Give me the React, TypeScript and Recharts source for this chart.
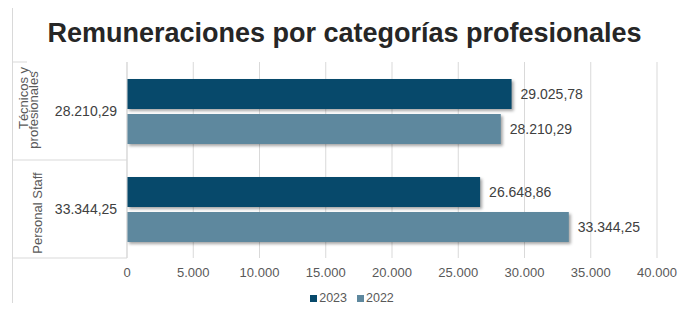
import React from "react";
import { BarChart, Bar, XAxis, YAxis, CartesianGrid, Legend, LabelList } from "recharts";

const categories = ["Técnicos y profesionales", "Personal Staff"];
const categoryLines = [["Técnicos y", "profesionales"], ["Personal Staff"]];
const values2023 = [29025.78, 26648.86];
const values2022 = [28210.29, 33344.25];
const xTicks = [0, 5000, 10000, 15000, 20000, 25000, 30000, 35000, 40000];
const seriesNames = ["2023", "2022"];
const colors = ["#07496B", "#5E889E"];

const data = categories.map((c, i) => ({ name: c, v2023: values2023[i], v2022: values2022[i] }));

const W = 693;
const H = 311;
const FONT = "'Liberation Sans', Arial, sans-serif";
const GRID = "#d9d9d9";

function groupThousands(intPart: string): string {
  return intPart.replace(/\B(?=(\d{3})+(?!\d))/g, ".");
}
function fmtInt(v: number): string {
  return groupThousands(String(Math.round(v)));
}
function fmtDec(v: number): string {
  const s = v.toFixed(2);
  const [a, b] = s.split(".");
  return groupThousands(a) + "," + b;
}

const ShadowBar = (props: any) => {
  const { x, y, width, height, fill } = props;
  return (
    <rect
      x={x}
      y={y}
      width={width}
      height={height}
      fill={fill}
      style={{ filter: "drop-shadow(2px 2px 1.5px rgba(0,0,0,0.35))" }}
    />
  );
};

const CategoryTick = (props: any) => {
  const { y, payload, index } = props;
  const i = categories.indexOf(payload.value);
  const lines = categoryLines[i] || [payload.value];
  const band = 98;
  const left = 13;
  const axisX = 127;
  const multi = lines.length > 1;
  return (
    <g>
      {index === 0 ? (
        <line x1={left} x2={27} y1={y - band / 2} y2={y - band / 2} stroke={GRID} />
      ) : null}
      <line x1={left} x2={axisX} y1={y + band / 2} y2={y + band / 2} stroke={GRID} />
      {multi ? (
        <>
          <text
            transform={`translate(27.5, ${y - 13}) rotate(-90)`}
            textAnchor="middle"
            fontSize={13}
            fill="#595959"
            fontFamily={FONT}
          >
            {lines[0]}
          </text>
          <text
            transform={`translate(38, ${y - 1}) rotate(-90)`}
            textAnchor="middle"
            fontSize={13}
            fill="#595959"
            fontFamily={FONT}
          >
            {lines[1]}
          </text>
        </>
      ) : (
        <text
          transform={`translate(42, ${y + 4}) rotate(-90)`}
          textAnchor="middle"
          fontSize={13}
          fill="#595959"
          fontFamily={FONT}
        >
          {lines[0]}
        </text>
      )}
      <text x={86} y={y + 5} textAnchor="middle" fontSize={14} fill="#404040" fontFamily={FONT}>
        {fmtDec(values2022[i])}
      </text>
    </g>
  );
};

const LegendContent = () => (
  <div
    style={{
      height: 20,
      display: "flex",
      justifyContent: "center",
      alignItems: "center",
      fontFamily: FONT,
      fontSize: 12.5,
      color: "#595959",
      paddingLeft: 34,
      paddingTop: 4,
      boxSizing: "border-box",
    }}
  >
    {seriesNames.map((n, k) => (
      <span key={n} style={{ display: "inline-flex", alignItems: "center", marginRight: k === 0 ? 10 : 0 }}>
        <span style={{ width: 7, height: 7, background: colors[k], display: "inline-block", marginRight: 2 }} />
        {n}
      </span>
    ))}
  </div>
);

export default function App() {
  return (
    <div style={{ position: "relative", width: W, height: H, margin: -8, background: "#fff" }}>
      <div
        style={{
          position: "absolute",
          left: 12,
          top: 3,
          width: 674,
          height: 320,
          borderTop: `1px solid ${GRID}`,
          borderLeft: `1px solid ${GRID}`,
          borderRight: `1px solid ${GRID}`,
          boxSizing: "border-box",
        }}
      />
      <div
        style={{
          position: "absolute",
          left: 0,
          width: W - 4,
          top: 15,
          textAlign: "center",
          fontFamily: FONT,
          fontWeight: "bold",
          fontSize: 27,
          color: "#262626",
          lineHeight: "36px",
        }}
      >
        Remuneraciones por categorías profesionales
      </div>
      <div style={{ position: "absolute", left: 0, top: 0 }}>
        <BarChart
          width={W}
          height={H}
          data={data}
          layout="vertical"
          margin={{ top: 62, right: 36, bottom: 5, left: 13 }}
          barSize={30}
          barGap={5}
        >
          <CartesianGrid horizontal={false} stroke={GRID} />
          <XAxis
            type="number"
            domain={[0, 40000]}
            ticks={xTicks}
            tickFormatter={fmtInt}
            axisLine={false}
            tickLine={false}
            height={28}
            tickMargin={4}
            tick={{ fontSize: 13, fill: "#595959", fontFamily: FONT }}
            interval={0}
          />
          <YAxis
            type="category"
            dataKey="name"
            width={114}
            axisLine={{ stroke: GRID }}
            tickLine={false}
            tick={<CategoryTick />}
            interval={0}
          />
          <Legend verticalAlign="bottom" content={<LegendContent />} />
          <Bar dataKey="v2023" name="2023" fill={colors[0]} shape={<ShadowBar />} isAnimationActive={false}>
            <LabelList
              dataKey="v2023"
              position="right"
              offset={9}
              formatter={(v: any) => fmtDec(Number(v))}
              style={{ fontSize: 14, fill: "#404040", fontFamily: FONT }}
            />
          </Bar>
          <Bar dataKey="v2022" name="2022" fill={colors[1]} shape={<ShadowBar />} isAnimationActive={false}>
            <LabelList
              dataKey="v2022"
              position="right"
              offset={9}
              formatter={(v: any) => fmtDec(Number(v))}
              style={{ fontSize: 14, fill: "#404040", fontFamily: FONT }}
            />
          </Bar>
        </BarChart>
      </div>
    </div>
  );
}
